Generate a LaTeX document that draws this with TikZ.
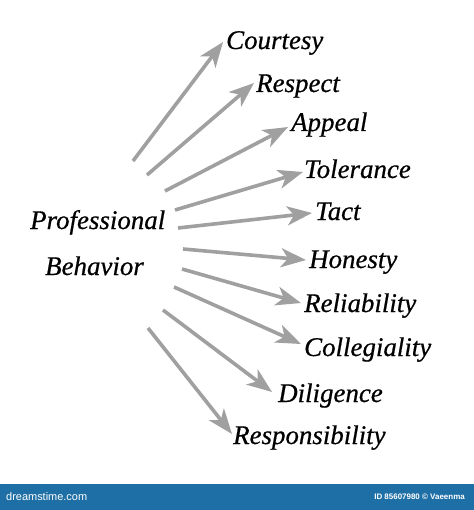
\documentclass[tikz,border=0pt]{standalone}
\usepackage{fontspec}
\setmainfont{Liberation Serif}
\newfontfamily\wordfont{Liberation Serif}[UprightFeatures={FakeBold=0.6}, ItalicFeatures={FakeBold=0.6}]
\newfontfamily\barfont{Liberation Sans}
\usetikzlibrary{arrows.meta}
\definecolor{arrowgray}{RGB}{160,160,160}
\definecolor{barblue}{RGB}{30,111,166}
\tikzset{
  word/.style={anchor=base west, inner sep=0pt, font=\wordfont\itshape\fontsize{27}{31}\selectfont, text=black},
  conn/.style={draw=arrowgray, line width=3.6bp, -{Stealth[length=25bp,width=19bp,inset=7bp]}},
}
\begin{document}
\begin{tikzpicture}[x=1bp,y=-1bp]
\useasboundingbox (0,0) rectangle (474,510);
\fill[white] (0,0) rectangle (474,510);
% central labels
\node[word] (prof) at (30,229) {Professional};
\node[word] (beh) at (45,275) {Behavior};
% target labels
\node[word] (t1) at (226,49) {Courtesy};
\node[word] (t2) at (256,92) {Respect};
\node[word] (t3) at (291,131) {Appeal};
\node[word] (t4) at (304,178) {Tolerance};
\node[word] (t5) at (315,220) {Tact};
\node[word] (t6) at (309,268) {Honesty};
\node[word] (t7) at (304,312) {Reliability};
\node[word] (t8) at (304,356) {Collegiality};
\node[word] (t9) at (278,402) {Diligence};
\node[word] (t10) at (233,444) {Responsibility};
% tails
\coordinate (s1) at (133,161);
\coordinate (s2) at (147,175);
\coordinate (s3) at (165,191);
\coordinate (s4) at (175,210);
\coordinate (s5) at (178,228);
\coordinate (s6) at (183,249);
\coordinate (s7) at (182,269);
\coordinate (s8) at (174,287);
\coordinate (s9) at (163,310);
\coordinate (s10) at (148,328);
% tips
\coordinate (e1) at (223,42);
\coordinate (e2) at (254,83);
\coordinate (e3) at (288,127);
\coordinate (e4) at (303,172);
\coordinate (e5) at (312,213);
\coordinate (e6) at (306,260);
\coordinate (e7) at (301,303);
\coordinate (e8) at (301,344);
\coordinate (e9) at (272,392);
\coordinate (e10) at (232,434);
\foreach \i in {1,...,10} {\draw[conn] (s\i) -- (e\i);}
% bottom bar
\fill[barblue] (0,484) rectangle (474,510);
\node[anchor=west, inner sep=0pt, text=white, font=\barfont\fontsize{11}{13}\selectfont] (brand) at (6,497) {dreamstime.com};
\node[anchor=east, inner sep=0pt, text=white, font=\barfont\bfseries\fontsize{8}{10}\selectfont] (credit) at (465,497) {ID 85607980 © Vaeenma};
\end{tikzpicture}
\end{document}
